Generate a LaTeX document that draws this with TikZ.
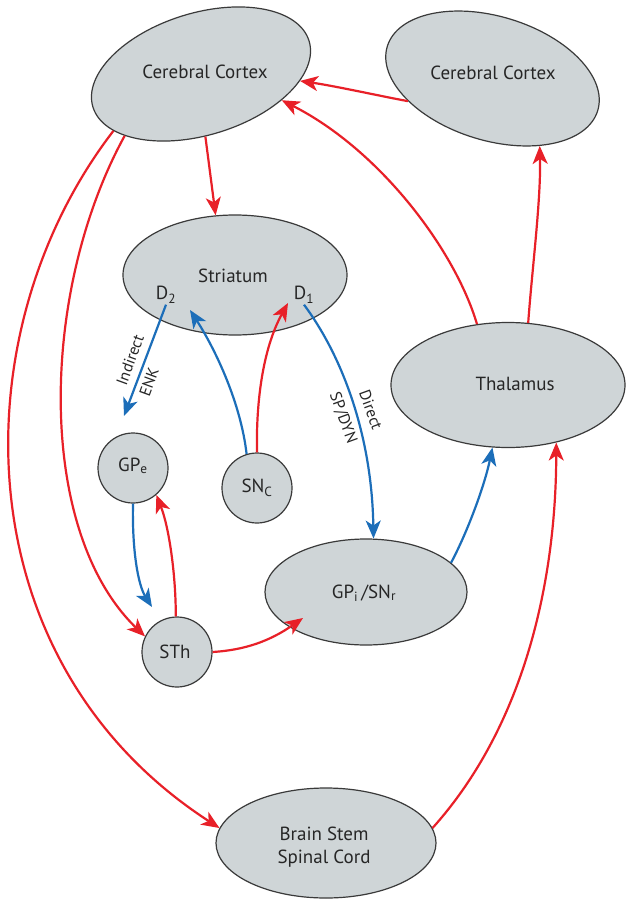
\documentclass[tikz,border=0pt]{standalone}
\usepackage{fontspec}
\setmainfont{PT Sans}
\usetikzlibrary{shapes.geometric,arrows.meta}
\definecolor{ared}{HTML}{E82028}
\definecolor{ablue}{HTML}{1C6EB9}
\definecolor{afill}{HTML}{CFD5D7}
\definecolor{aline}{HTML}{3A3A3A}
\definecolor{atext}{HTML}{262626}
\begin{document}
\begin{tikzpicture}[x=1pt,y=-1pt,
  region/.style={ellipse, draw=aline, line width=1.2pt, fill=afill, inner sep=0pt},
  nucleus/.style={circle, draw=aline, line width=1.2pt, fill=afill, inner sep=0pt, minimum size=70pt},
  lbl/.style={font=\fontsize{19}{23}\selectfont, text=atext, inner sep=1pt},
  small/.style={font=\fontsize{16}{18}\selectfont, text=atext, inner sep=1pt},
  redarrow/.style={draw=ared, line width=2.2pt, -{Stealth[length=18pt,width=15pt,inset=5pt]}},
  bluearrow/.style={draw=ablue, line width=2.2pt, -{Stealth[length=18pt,width=15pt,inset=5pt]}}]
\useasboundingbox (0,0) rectangle (628,899);
\fill[white] (0,0) rectangle (628,899);

% regions
\node[region, rotate=17, minimum width=226pt, minimum height=122pt] (cl) at (201,74) {};
\node[region, rotate=-17, minimum width=220pt, minimum height=124pt] (cr) at (492.5,78.5) {};
\node[region, minimum width=224pt, minimum height=120pt] (st) at (235,275) {};
\node[region, minimum width=234pt, minimum height=125pt] (th) at (508,385) {};
\node[region, minimum width=202pt, minimum height=106pt] (gpi) at (366,592) {};
\node[region, minimum width=220pt, minimum height=110pt] (bs) at (326,843) {};
\node[nucleus] (gpe) at (133,468) {};
\node[nucleus] (snc) at (257,488) {};
\node[nucleus] (sth) at (177,652) {};

% texts
\node[lbl] (clt) at (205,72) {Cerebral Cortex};
\node[lbl] (crt) at (493,73) {Cerebral Cortex};
\node[lbl] (stt) at (233,276) {Striatum};
\node[lbl] (d2) at (166,295) {D\textsubscript{2}};
\node[lbl] (d1) at (304,295) {D\textsubscript{1}};
\node[lbl] (tht) at (515,384) {Thalamus};
\node[lbl] (gpet) at (133,466) {GP\textsubscript{e}};
\node[lbl] (snct) at (257,488) {SN\textsubscript{C}};
\node[lbl] (gpit) at (364,593) {GP\textsubscript{i}\,/SN\textsubscript{r}};
\node[lbl] (stht) at (175,652) {STh};
\node[lbl, align=center] (bst) at (324,847) {Brain Stem\\Spinal Cord};

% free ends
\coordinate (gpeIn) at (124,416);
\coordinate (d2In) at (190,310);
\coordinate (d1In) at (288,303);
\coordinate (sthIn) at (152,607);
\coordinate (gpiIn) at (303,618);

% red connectors
\draw[redarrow] (cr.212) .. controls (380,96) and (335,86) .. (cl.-21);
\draw[redarrow] (th.117) .. controls (455,250) and (380,150) .. (cl.-35);
\draw[redarrow] (th.72) .. controls (532,270) and (541,200) .. (cr.-38);
\draw[redarrow] (cl.-103) -- (st.108);
\draw[redarrow] (cl.196) .. controls (-40,330) and (-40,660) .. (bs.172);
\draw[redarrow] (cl.202) .. controls (40,290) and (35,530) .. (sth.154);
\draw[redarrow] (snc.90) .. controls (256,405) and (262,350) .. (d1In);
\draw[redarrow] (sth.92) .. controls (176,580) and (170,530) .. (gpe.-49);
\draw[redarrow] (sth.0) .. controls (245,650) and (270,641) .. (gpiIn);
\draw[redarrow] (bs.8) .. controls (525,725) and (556,580) .. (th.-50);

% blue connectors
\draw[bluearrow] (d2.south) -- (gpeIn);
\draw[bluearrow] (snc.107) .. controls (241,405) and (217,352) .. (d2In);
\draw[bluearrow] (d1.south) .. controls (345,360) and (372,440) .. (gpi.82);
\draw[bluearrow] (gpi.19) .. controls (468,531) and (485,484) .. (th.256);
\draw[bluearrow] (gpe.south) .. controls (132,550) and (138,585) .. (sthIn);

% path labels
\node[small, rotate=70] (ind) at (130,360) {Indirect};
\node[small, rotate=70] (enk) at (149,382) {ENK};
\node[small, rotate=-70] (dir) at (371,410) {Direct};
\node[small, rotate=-70] (spd) at (343,418) {SP/DYN};
\end{tikzpicture}
\end{document}
